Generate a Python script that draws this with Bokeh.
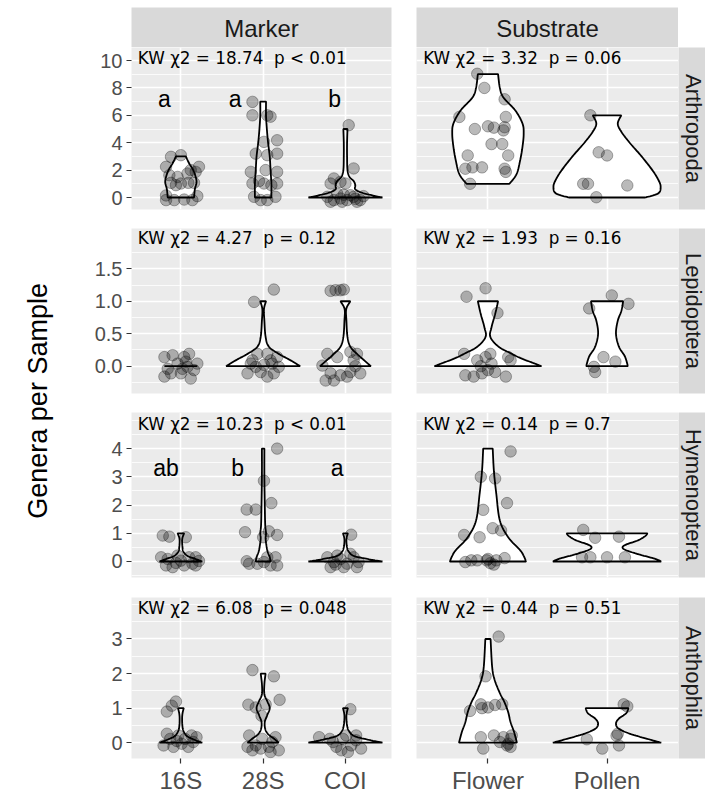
import numpy as np
from bokeh.plotting import figure
from bokeh.models import Range1d, FixedTicker, Grid
from bokeh.layouts import gridplot, row
from bokeh.embed import file_html
from bokeh.resources import INLINE
from bokeh.core.properties import value

# ---------------- data ----------------
marker_cats = ["16S", "28S", "COI"]
substrate_cats = ["Flower", "Pollen"]
row_taxa = ["Arthropoda", "Lepidoptera", "Hymenoptera", "Anthophila"]
col_titles = ["Marker", "Substrate"]
y_label = "Genera per Sample"

kw_marker = ["KW \u03c72 = 18.74 \u00a0p < 0.01", "KW \u03c72 = 4.27 \u00a0p = 0.12",
             "KW \u03c72 = 10.23 \u00a0p < 0.01", "KW \u03c72 = 6.08 \u00a0p = 0.048"]
kw_substrate = ["KW \u03c72 = 3.32 \u00a0p = 0.06", "KW \u03c72 = 1.93 \u00a0p = 0.16",
                "KW \u03c72 = 0.14 \u00a0p = 0.7", "KW \u03c72 = 0.44 \u00a0p = 0.51"]
kw_y = [10.2, 1.97, 4.88, 3.89]

letters_arth = ["a", "a", "b"]
letters_arth_x = [0.80, 1.66, 2.87]
letters_arth_y = 7.2
letters_hym = ["ab", "b", "a"]
letters_hym_x = [0.82, 1.69, 2.90]
letters_hym_y = 3.33

y_major = [[0, 2, 4, 6, 8, 10], [0, 0.5, 1.0, 1.5], [0, 1, 2, 3, 4], [0, 1, 2, 3]]
y_major_labels = [["0", "2", "4", "6", "8", "10"], ["0.0", "0.5", "1.0", "1.5"],
                  ["0", "1", "2", "3", "4"], ["0", "1", "2", "3"]]
y_minor = [[-1, 1, 3, 5, 7, 9], [-0.25, 0.25, 0.75, 1.25, 1.75],
           [-0.5, 0.5, 1.5, 2.5, 3.5, 4.5, 5], [-0.5, 0.5, 1.5, 2.5, 3.5, 4]]

# jittered points: offset from category centre and plotted value
arth_marker_dx = [
    [-0.12, 0.0, -0.18, 0.22, 0.12, -0.14, -0.04, 0.08, 0.18, -0.12, 0.0, 0.09, 0.16, -0.06, -0.18, 0.20, -0.18, -0.08, 0.04, 0.14],
    [-0.13, -0.13, 0.05, 0.09, 0.17, 0.01, -0.09, 0.17, 0.05, -0.15, 0.03, 0.17, -0.13, 0.01, 0.17, -0.11, 0.05, 0.15, -0.03, 0.10, -0.05],
    [0.04, 0.10, -0.14, -0.18, -0.06, 0.00, -0.22, -0.14, -0.06, 0.02, 0.10, 0.18, -0.10, 0.06, -0.18, -0.04, 0.14, 0.22, -0.02, 0.12]]
arth_marker_y = [
    [2.97, 3.09, 2.24, 2.24, 2.0, 1.63, 1.5, 1.75, 1.87, 1.07, 1.02, 1.07, 1.07, 0.9, 0.15, 0.1, -0.19, -0.19, -0.15, -0.19],
    [6.98, 6.0, 6.0, 5.9, 4.18, 4.06, 3.2, 3.2, 3.09, 1.87, 2.0, 1.87, 1.02, 1.02, 1.02, 0.05, -0.19, 0.05, -0.19, 0.9, 1.2],
    [5.28, 2.12, 1.39, 1.02, 1.14, 1.02, 0.05, -0.19, -0.07, -0.19, 0.05, -0.19, 0.29, 0.17, -0.31, -0.31, -0.31, 0.1, 0.2, -0.1]]
arth_sub_dx = [
    [-0.09, -0.03, 0.14, -0.24, 0.15, -0.11, 0.0, 0.05, 0.14, 0.13, 0.03, 0.12, 0.17, -0.17, -0.19, -0.13, -0.05, 0.14, 0.15, -0.15],
    [-0.14, -0.07, 0.0, -0.2, -0.16, 0.17, -0.09]]
arth_sub_y = [
    [9.03, 8.0, 7.17, 5.88, 5.88, 5.0, 5.2, 5.1, 5.13, 4.9, 3.9, 3.9, 3.07, 3.07, 2.1, 2.2, 2.2, 2.1, 1.87, 1.0],
    [6.0, 3.3, 3.07, 1.0, 1.0, 0.88, 0.02]]

lep_marker_dx = [
    [-0.2, -0.1, 0.04, 0.1, 0.2, -0.16, -0.2, -0.12, 0.02, 0.08, 0.12, -0.04, 0.06, 0.16, 0.0],
    [-0.11, 0.13, -0.19, -0.09, 0.05, 0.09, 0.17, 0.01, -0.03, 0.13, -0.13, 0.19, -0.07, 0.05, -0.15, 0.11],
    [-0.18, -0.12, -0.06, -0.02, -0.22, -0.1, 0.06, 0.14, 0.1, -0.18, -0.06, 0.06, 0.18, -0.14, 0.02, -0.28, -0.24, 0.12]]
lep_marker_y = [
    [0.14, 0.17, 0.14, 0.19, 0.04, -0.04, -0.16, -0.11, -0.04, -0.01, -0.19, 0.04, 0.07, -0.06, -0.11],
    [0.99, 1.18, -0.11, -0.01, 0.19, 0.09, 0.14, 0.02, -0.09, -0.11, 0.09, -0.01, 0.19, -0.16, 0.04, 0.04],
    [1.16, 1.17, 1.17, 1.18, 0.19, 0.14, 0.22, 0.19, 0.09, -0.11, -0.14, -0.09, -0.11, -0.22, -0.16, 0.01, -0.22, 0.0]]
lep_sub_dx = [
    [-0.18, -0.02, 0.08, -0.2, -0.09, -0.02, 0.03, 0.17, 0.19, -0.19, -0.12, -0.05, 0.0, 0.06, 0.15, -0.06, 0.02],
    [0.04, 0.18, -0.15, -0.11, -0.03, 0.07, -0.1]]
lep_sub_y = [
    [1.07, 1.2, 0.82, 0.19, 0.09, 0.14, 0.04, 0.14, 0.09, -0.14, -0.16, -0.11, -0.06, -0.09, -0.16, 0.0, 0.19],
    [1.09, 0.96, 0.89, -0.01, 0.14, 0.07, -0.09]]

hym_marker_dx = [
    [-0.22, -0.14, 0.06, -0.24, -0.16, -0.04, 0.1, 0.18, -0.18, -0.1, 0.04, 0.14, 0.18, 0.0, -0.06, 0.22],
    [0.17, 0.01, 0.1, -0.2, -0.09, -0.22, 0.07, 0.0, 0.17, -0.2, -0.17, -0.07, 0.01, 0.09, 0.15, 0.05, 0.17],
    [0.07, -0.22, -0.14, -0.06, 0.02, 0.1, 0.16, -0.18, -0.02, 0.14, -0.1, 0.06, -0.12]]
hym_marker_y = [
    [0.92, 0.88, 0.86, 0.15, 0.09, 0.21, 0.15, 0.15, -0.14, -0.2, -0.14, -0.08, -0.14, 0.03, -0.05, 0.02],
    [4.0, 2.86, 2.07, 1.84, 1.84, 1.04, 1.07, 0.86, 0.94, 0.01, -0.08, -0.08, -0.02, -0.14, 0.15, 0.15, -0.14],
    [0.95, 0.15, -0.02, 0.09, -0.08, 0.15, -0.02, -0.2, -0.2, -0.2, 0.21, 0.27, -0.11]]
hym_sub_dx = [
    [0.19, -0.06, 0.06, 0.16, -0.04, 0.04, 0.11, -0.2, -0.07, 0.14, -0.19, -0.14, -0.09, -0.01, 0.02, 0.05, 0.0, 0.07],
    [-0.2, -0.1, 0.1, -0.21, -0.14, 0.0, 0.15]]
hym_sub_y = [
    [3.9, 3.0, 2.94, 2.07, 1.83, 1.18, 1.1, 0.94, 0.86, 0.12, -0.02, 0.04, 0.04, 0.04, -0.06, -0.11, 0.09, 0.04],
    [1.12, 0.84, 0.88, 0.15, 0.15, 0.15, 0.15]]

anth_marker_dx = [
    [-0.17, -0.11, -0.06, -0.21, -0.13, -0.03, 0.05, 0.13, 0.19, -0.17, -0.09, 0.09, 0.01, 0.15, -0.05],
    [-0.13, 0.13, -0.18, -0.09, 0.03, 0.2, -0.02, -0.17, -0.09, -0.03, 0.07, 0.15, 0.19, -0.13, -0.01, 0.11, -0.19, 0.09],
    [0.06, -0.32, -0.19, -0.11, 0.01, 0.13, 0.19, -0.05, 0.07, -0.15, -0.03, 0.13, 0.03]]
anth_marker_y = [
    [0.9, 1.07, 1.19, -0.08, 0.11, 0.21, 0.11, 0.21, 0.16, 0.26, -0.12, -0.12, -0.03, 0.02, 0.05],
    [2.1, 1.92, 1.1, 1.02, 1.11, 1.24, 0.78, 0.21, -0.08, -0.17, -0.12, 0.16, -0.22, -0.22, 0.11, 0.02, -0.12, -0.27],
    [0.97, 0.16, 0.11, -0.12, 0.21, 0.07, -0.17, -0.22, -0.08, 0.02, 0.11, 0.21, -0.27]]
anth_sub_dx = [
    [0.09, -0.02, -0.15, -0.06, 0.0, 0.06, 0.12, -0.05, -0.06, 0.05, 0.13, 0.19, -0.04, 0.16, 0.2, 0.1, 0.17, 0.19],
    [0.14, 0.17, -0.17, -0.04, 0.09, 0.1, 0.08]]
anth_sub_y = [
    [3.07, 1.92, 0.92, 1.11, 1.02, 1.09, 1.11, 1.0, 0.16, 0.21, 0.16, 0.11, -0.17, -0.08, 0.21, 0.02, -0.03, -0.12],
    [1.11, 1.05, 0.1, -0.17, 0.26, -0.08, 0.2]]

# violin outlines: value levels and half-widths (category units)
arth_marker_vy = [[0, 0.6, 1.1, 1.5, 2.0, 2.5, 3.0],
                  [0, 1, 2, 3, 4, 5, 6, 7],
                  [0, 0.15, 0.35, 0.6, 0.9, 1.2, 1.5, 2.0, 3.0, 4.0, 5.0]]
arth_marker_vw = [[0.16, 0.17, 0.19, 0.18, 0.15, 0.10, 0.06],
                  [0.10, 0.10, 0.09, 0.08, 0.06, 0.045, 0.035, 0.035],
                  [0.45, 0.33, 0.20, 0.12, 0.12, 0.10, 0.05, 0.025, 0.02, 0.02, 0.025]]
arth_sub_vy = [[1.0, 1.7, 2.7, 3.7, 4.65, 5.4, 6.35, 7.3, 8.0, 9.0],
               [0, 0.3, 0.8, 1.3, 2.0, 3.0, 4.0, 4.8, 5.4, 6.0]]
arth_sub_vw = [[0.18, 0.24, 0.27, 0.29, 0.30, 0.29, 0.23, 0.13, 0.10, 0.085],
               [0.32, 0.43, 0.45, 0.43, 0.38, 0.29, 0.19, 0.12, 0.09, 0.12]]

lep_marker_vy = [[0, 0],
                 [0, 0.1, 0.19, 0.3, 0.45, 0.7, 0.88, 1.0],
                 [0, 0.1, 0.19, 0.3, 0.45, 0.7, 0.88, 1.0]]
lep_marker_vw = [[0.2, 0.2],
                 [0.45, 0.32, 0.19, 0.07, 0.03, 0.015, 0.01, 0.035],
                 [0.31, 0.22, 0.14, 0.06, 0.025, 0.012, 0.01, 0.06]]
lep_sub_vy = [[0, 0.05, 0.12, 0.2, 0.3, 0.45, 0.6, 0.8, 1.0],
              [0, 0.15, 0.3, 0.5, 0.7, 0.85, 1.0]]
lep_sub_vw = [[0.45, 0.38, 0.28, 0.19, 0.09, 0.02, 0.03, 0.06, 0.085],
              [0.175, 0.15, 0.10, 0.075, 0.09, 0.12, 0.135]]

hym_marker_vy = [[0, 0.1, 0.2, 0.35, 0.5, 0.7, 0.85, 1.0],
                 [0, 0.15, 0.4, 0.8, 1.0, 1.3, 2, 3, 4],
                 [0, 0.1, 0.2, 0.35, 0.5, 0.7, 0.85, 1.0]]
hym_marker_vw = [[0.26, 0.17, 0.08, 0.03, 0.02, 0.015, 0.02, 0.04],
                 [0.09, 0.08, 0.05, 0.03, 0.035, 0.025, 0.02, 0.015, 0.015],
                 [0.45, 0.25, 0.10, 0.04, 0.02, 0.012, 0.015, 0.03]]
hym_sub_vy = [[0, 0.2, 0.4, 0.86, 1.45, 2.4, 3.2, 4.0],
              [0, 0.1, 0.25, 0.4, 0.5, 0.6, 0.75, 0.9, 1.0]]
hym_sub_vw = [[0.32, 0.30, 0.27, 0.17, 0.10, 0.07, 0.05, 0.04],
              [0.455, 0.40, 0.27, 0.16, 0.13, 0.16, 0.26, 0.32, 0.34]]

anth_marker_vy = [[0, 0.1, 0.2, 0.35, 0.5, 0.7, 0.85, 1.0],
                  [0, 0.1, 0.25, 0.4, 0.6, 0.8, 1.0, 1.2, 1.4, 1.7, 2.0],
                  [0, 0.1, 0.2, 0.35, 0.5, 0.7, 0.85, 1.0]]
anth_marker_vw = [[0.26, 0.15, 0.07, 0.03, 0.018, 0.015, 0.02, 0.035],
                  [0.19, 0.14, 0.06, 0.025, 0.02, 0.05, 0.08, 0.05, 0.015, 0.015, 0.03],
                  [0.45, 0.25, 0.10, 0.04, 0.02, 0.012, 0.015, 0.03]]
anth_sub_vy = [[0, 0.3, 0.59, 0.88, 1.16, 1.45, 1.83, 2.2, 3.0],
               [0, 0.1, 0.25, 0.4, 0.55, 0.7, 0.85, 1.0]]
anth_sub_vw = [[0.243, 0.22, 0.19, 0.17, 0.14, 0.098, 0.055, 0.035, 0.022],
               [0.455, 0.35, 0.20, 0.10, 0.075, 0.10, 0.16, 0.18]]

# ---------------- layout / style ----------------
PANEL_BG = "#EBEBEB"
STRIP_BG = "#D9D9D9"
STRIP_TXT = "#1A1A1A"
TICK_TXT = "#4D4D4D"
AX_FONT = "Liberation Sans"
KW_FONT = "DejaVu Sans"

W0, W1, W2, W3 = 60, 345, 273, 27
L_BL, L_BR = 71, 14
R_BL, R_BR = 11, 0
H0, H0_TOP = 47, 7
ROW_H = [181, 184, 185, 199]
ROW_BB = [19, 19, 20, 36]
Y_RANGES = [(-0.876, 10.95), (-0.42, 2.12), (-0.567, 5.28), (-0.457, 4.2)]


def smooth(ys, ws, n=10):
    pts = np.column_stack([np.asarray(ws, float), np.asarray(ys, float)])
    if len(pts) < 3:
        return pts[:, 1], pts[:, 0]
    P = np.vstack([pts[0], pts, pts[-1]])
    out = []
    for i in range(1, len(P) - 2):
        p0, p1, p2, p3 = P[i - 1], P[i], P[i + 1], P[i + 2]
        for t in np.linspace(0, 1, n, endpoint=False):
            t2, t3 = t * t, t * t * t
            out.append(0.5 * (2 * p1 + (-p0 + p2) * t + (2 * p0 - 5 * p1 + 4 * p2 - p3) * t2
                              + (-p0 + 3 * p1 - 3 * p2 + p3) * t3))
    out.append(pts[-1])
    out = np.array(out)
    return out[:, 1], np.clip(out[:, 0], 0.004, None)


def base_fig(width, height, xr, yr, bl, br, bb, bt=0, xaxis=False, yaxis=False, bg=PANEL_BG):
    p = figure(width=width, height=height, x_range=xr, y_range=yr,
               output_backend="svg", toolbar_location=None,
               x_axis_location="below" if xaxis else None,
               y_axis_location="left" if yaxis else None,
               min_border_left=bl, min_border_right=br, min_border_top=bt,
               min_border_bottom=bb, background_fill_color=bg,
               border_fill_color="white", outline_line_color=None)
    for g in p.grid:
        g.visible = False
    return p


def style_axis(ax, size):
    ax.axis_line_color = None
    ax.major_tick_line_color = "#333333"
    ax.major_tick_line_width = 1.2
    ax.major_tick_out = 5
    ax.major_tick_in = 0
    ax.minor_tick_line_color = None
    ax.major_label_text_color = TICK_TXT
    ax.major_label_text_font = AX_FONT
    ax.major_label_text_font_size = size


def panel(r, cats, dxs, ys, vys, vws, kw, kw_x, yr, is_left, letters=None, letters_x=None, letters_y=None):
    ncat = len(cats)
    x_end = 3.56 if ncat == 3 else 2.6
    width = W1 if is_left else W2
    bl, br = (L_BL, L_BR) if is_left else (R_BL, R_BR)
    bottom = r == 3
    p = base_fig(width, ROW_H[r], Range1d(0.4, x_end), yr, bl, br, ROW_BB[r],
                 xaxis=bottom, yaxis=is_left)
    cat_pos = list(range(1, ncat + 1))
    p.add_layout(Grid(dimension=0, ticker=FixedTicker(ticks=cat_pos),
                      grid_line_color="white", grid_line_width=1.6))
    p.add_layout(Grid(dimension=1, ticker=FixedTicker(ticks=y_major[r], minor_ticks=y_minor[r]),
                      grid_line_color="white", grid_line_width=1.6,
                      minor_grid_line_color="white", minor_grid_line_width=0.8))
    if is_left:
        p.yaxis.ticker = FixedTicker(ticks=y_major[r])
        p.yaxis.major_label_overrides = {t: s for t, s in zip(y_major[r], y_major_labels[r])}
        style_axis(p.yaxis[0], "20px")
        p.yaxis.major_label_standoff = 4
    if bottom:
        p.xaxis.ticker = FixedTicker(ticks=cat_pos)
        p.xaxis.major_label_overrides = {i + 1: c for i, c in enumerate(cats)}
        style_axis(p.xaxis[0], "24px")
        p.xaxis.major_label_standoff = 3
    for i in range(ncat):
        c = i + 1
        sy, sw = smooth(vys[i], vws[i])
        vx = np.concatenate([c - sw, (c + sw)[::-1]])
        vy = np.concatenate([sy, sy[::-1]])
        p.patch(vx, vy, fill_color="white", line_color="black", line_width=1.8)
    for i in range(ncat):
        c = i + 1
        px = [c + d for d in dxs[i]]
        p.scatter(px, ys[i][:len(px)], size=11.5, fill_color="black", fill_alpha=0.27,
                  line_color="black", line_alpha=0.3, line_width=1)
    p.text(x=[kw_x], y=[kw_y[r]], text=[kw], text_font=value(KW_FONT),
           text_font_size=value("16.8px"), text_color="black",
           text_align="left", text_baseline="middle")
    if letters:
        p.text(x=letters_x, y=[letters_y] * len(letters), text=letters,
               text_font=value(AX_FONT), text_font_size=value("23px"),
               text_color="black", text_align="center", text_baseline="middle")
    return p


def top_strip(label, width, bl, br):
    p = base_fig(width, H0, Range1d(0, 1), Range1d(0, 1), bl, br, 0, bt=H0_TOP, bg=STRIP_BG)
    p.text(x=[0.5], y=[0.47], text=[label], text_font=value(AX_FONT),
           text_font_size=value("24px"), text_color=STRIP_TXT,
           text_align="center", text_baseline="middle")
    return p


def side_strip(label, r):
    p = base_fig(W3, ROW_H[r], Range1d(0, 1), Range1d(0, 1), 0, 0, ROW_BB[r], bg=STRIP_BG)
    p.text(x=[0.55], y=[0.5], text=[label], angle=-np.pi / 2, text_font=value(AX_FONT),
           text_font_size=value("22px"), text_color=STRIP_TXT,
           text_align="center", text_baseline="middle")
    return p


marker_dx = [arth_marker_dx, lep_marker_dx, hym_marker_dx, anth_marker_dx]
marker_y = [arth_marker_y, lep_marker_y, hym_marker_y, anth_marker_y]
marker_vy = [arth_marker_vy, lep_marker_vy, hym_marker_vy, anth_marker_vy]
marker_vw = [arth_marker_vw, lep_marker_vw, hym_marker_vw, anth_marker_vw]
sub_dx = [arth_sub_dx, lep_sub_dx, hym_sub_dx, anth_sub_dx]
sub_y = [arth_sub_y, lep_sub_y, hym_sub_y, anth_sub_y]
sub_vy = [arth_sub_vy, lep_sub_vy, hym_sub_vy, anth_sub_vy]
sub_vw = [arth_sub_vw, lep_sub_vw, hym_sub_vw, anth_sub_vw]

children = [[top_strip(col_titles[0], W1, L_BL, L_BR), top_strip(col_titles[1], W2, R_BL, R_BR), None]]
for r in range(4):
    yr = Range1d(*Y_RANGES[r])
    lk = {}
    if r == 0:
        lk = dict(letters=letters_arth, letters_x=letters_arth_x, letters_y=letters_arth_y)
    elif r == 2:
        lk = dict(letters=letters_hym, letters_x=letters_hym_x, letters_y=letters_hym_y)
    left = panel(r, marker_cats, marker_dx[r], marker_y[r], marker_vy[r], marker_vw[r],
                 kw_marker[r], 0.477, yr, True, **lk)
    right = panel(r, substrate_cats, sub_dx[r], sub_y[r], sub_vy[r], sub_vw[r],
                  kw_substrate[r], 0.456, yr, False)
    children.append([left, right, side_strip(row_taxa[r], r)])

grid = gridplot(children, toolbar_location=None)

ylab = base_fig(W0, sum(ROW_H) + H0, Range1d(0, 1), Range1d(0, 1), 0, 0, 0, bg="white")
ylab.text(x=[0.63], y=[0.497], text=[y_label], angle=np.pi / 2, text_font=value(AX_FONT),
          text_font_size=value("27px"), text_color="black",
          text_align="center", text_baseline="middle")

layout = row(ylab, grid)
open("out.html", "w").write(file_html(layout, INLINE))
